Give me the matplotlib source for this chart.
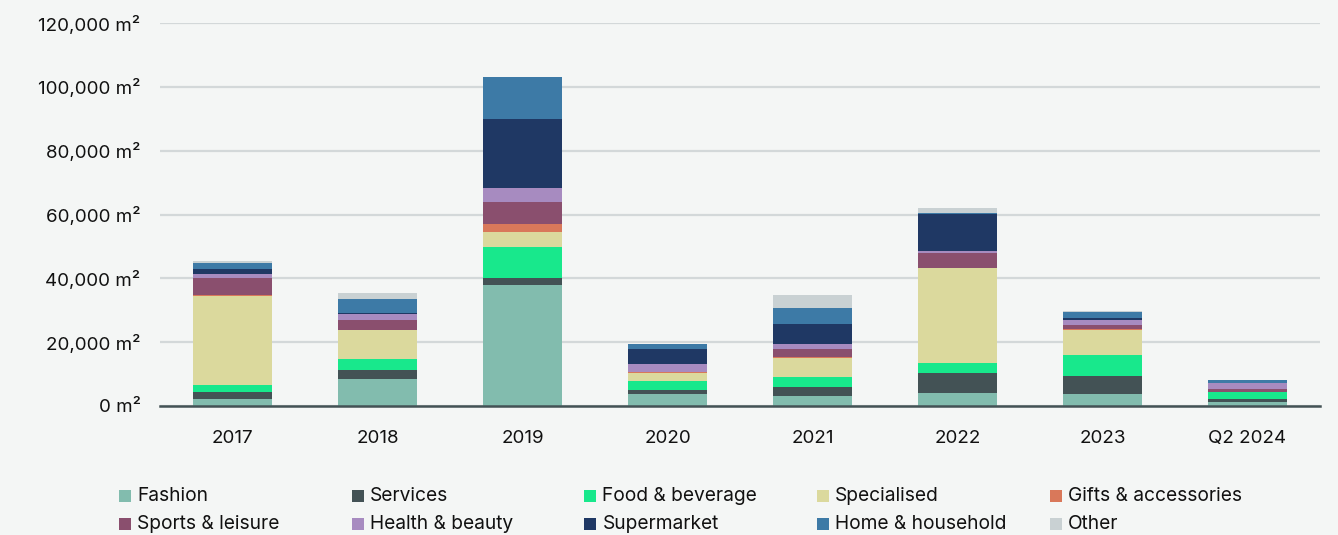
import matplotlib
matplotlib.use("Agg")
import matplotlib.pyplot as plt
from matplotlib.patches import Rectangle
from matplotlib.ticker import FuncFormatter, MultipleLocator

plt.rcParams['font.family'] = ['Inter', 'DejaVu Sans']

years = ["2017", "2018", "2019", "2020", "2021", "2022", "2023", "Q2 2024"]
categories = ["Fashion", "Services", "Food & beverage", "Specialised", "Gifts & accessories",
              "Sports & leisure", "Health & beauty", "Supermarket", "Home & household", "Other"]

fashion      = [2200, 8600, 37900, 3800, 3100, 4100, 3750, 1300]
services     = [2100, 2700, 2100, 1200, 2900, 6300, 5600, 750]
food_bev     = [2300, 3400, 9900, 2800, 3100, 3100, 6600, 2200]
specialised  = [28000, 9000, 4700, 2400, 5900, 29700, 8000, 100]
gifts        = [300, 200, 2300, 300, 500, 100, 100, 50]
sports       = [5100, 3200, 7000, 200, 2300, 4700, 1300, 1000]
health       = [1300, 1700, 4300, 2400, 1500, 600, 1600, 1700]
supermarket  = [1500, 200, 21800, 4900, 6300, 11700, 500, 200]
home         = [2000, 4500, 13000, 1400, 5000, 100, 2100, 750]
other        = [600, 1900, 100, 150, 4200, 1600, 100, 100]

series = [fashion, services, food_bev, specialised, gifts, sports, health, supermarket, home, other]
colors = ["#82bcae", "#435255", "#18e88c", "#dbd99d", "#d9785a",
          "#8a4f6e", "#a78bc0", "#1f3864", "#3d7aa6", "#c9d1d3"]

bg = "#f4f6f5"
fig = plt.figure(figsize=(13.38, 5.35), dpi=100, facecolor=bg)
W, H = 1338, 535
ax = fig.add_axes([160 / W, 1 - 406 / H, 1160 / W, (406 - 23) / H])
ax.set_facecolor(bg)

x = list(range(len(years)))
bottom = [0] * len(years)
for vals, c, lab in zip(series, colors, categories):
    ax.bar(x, vals, width=0.545, bottom=bottom, color=c, label=lab, linewidth=0, zorder=3)
    bottom = [b + v for b, v in zip(bottom, vals)]

ax.set_xlim(-0.5, 7.5)
ax.set_ylim(0, 120000)
ax.yaxis.set_major_locator(MultipleLocator(20000))
ax.yaxis.set_major_formatter(FuncFormatter(lambda v, p: f"{int(v):,} m²"))
ax.set_xticks(x)
ax.set_xticklabels(years)
ax.grid(axis='y', color="#d3d8d9", linewidth=1.6, zorder=0)
ax.set_axisbelow(True)
for s in ['top', 'right', 'left']:
    ax.spines[s].set_visible(False)
ax.spines['bottom'].set_color("#435255")
ax.spines['bottom'].set_linewidth(1.8)
ax.spines['bottom'].set_zorder(4)
ax.tick_params(axis='both', length=0, labelsize=13.5, colors="#111111")
ax.tick_params(axis='y', pad=14)
ax.tick_params(axis='x', pad=17)

# legend, row-major 5 columns
x0, dx = 119, 232.7
rows_y = [496, 524]
for i, (lab, c) in enumerate(zip(categories, colors)):
    col, row = i % 5, i // 5
    px = x0 + col * dx
    py = rows_y[row]
    fig.patches.append(Rectangle((px / W, 1 - (py + 6) / H), 12 / W, 12 / H,
                                 transform=fig.transFigure, facecolor=c, edgecolor='none'))
    fig.text((px + 18) / W, 1 - py / H, lab, fontsize=13.8, va='center', ha='left', color="#111111")

fig.savefig("out.png", dpi=100, facecolor=bg)
